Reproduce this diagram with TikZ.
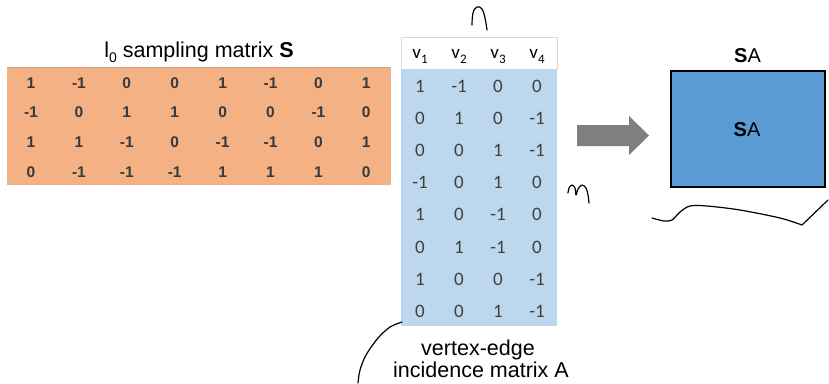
\documentclass[tikz,border=0pt]{standalone}
\usepackage{fontspec}
\setmainfont{Liberation Sans}
\newfontfamily\calib{Carlito}
\definecolor{orfill}{HTML}{F4B183}
\definecolor{orline}{HTML}{C8A68C}
\definecolor{blfill}{HTML}{BDD7EE}
\definecolor{hdline}{HTML}{D9D9D9}
\definecolor{sabox}{HTML}{5B9BD5}
\definecolor{arrgray}{HTML}{7F7F7F}
\definecolor{numgray}{HTML}{3A3A3A}
\definecolor{bnumgray}{HTML}{404040}
\begin{document}
\begin{tikzpicture}[x=1pt,y=-1pt,
  onum/.style={font=\fontsize{15.5}{17}\selectfont\bfseries, text=numgray, inner sep=0pt},
  bnum/.style={font=\calib\fontsize{19}{21}\selectfont, text=bnumgray, inner sep=0pt},
  vhead/.style={font=\calib\fontsize{19}{21}\selectfont, text=black, inner sep=0pt, anchor=base},
  lbl/.style={font=\fontsize{21.5}{24}\selectfont, text=black, inner sep=0pt, anchor=base},
  salbl/.style={font=\fontsize{20}{22}\selectfont, text=black, inner sep=0pt},
  hand/.style={line width=1.2pt, black, line cap=round, line join=round}]
\useasboundingbox (0,0) rectangle (829,383);

% sampling matrix S
\node[fill=orfill, minimum width=384pt, minimum height=118pt, inner sep=0pt, anchor=north west] (S) at (7,67) {};
\draw[orline, line width=0.8pt] (S.north west) -- (S.north east);
\foreach \row [count=\i from 0] in {{1,-1,0,0,1,-1,0,1},{-1,0,1,1,0,0,-1,0},{1,1,-1,0,-1,-1,0,1},{0,-1,-1,-1,1,1,1,0}}
  \foreach \v [count=\j from 0] in \row
    \node[onum] (s-\i-\j) at (31+47.9*\j, 83+29.6*\i) {\v};
\node[lbl] (stitle) at (199,57) {l\raisebox{-5pt}{\fontsize{14}{14}\selectfont 0} sampling matrix \textbf{S}};

% incidence matrix A
\node[fill=white, draw=hdline, line width=0.8pt, minimum width=156pt, minimum height=32pt, inner sep=0pt, anchor=north west] (Ahead) at (401,37) {};
\node[fill=blfill, minimum width=156pt, minimum height=257pt, inner sep=0pt, anchor=north west] (A) at (401,69) {};
\foreach \k in {1,2,3,4}
  \node[vhead] (v\k) at (420+39*\k-39, 58.5) {v\raisebox{-4.5pt}{\fontsize{13}{13}\selectfont\k}};
\foreach \row [count=\i from 0] in {{1,-1,0,0},{0,1,0,-1},{0,0,1,-1},{-1,0,1,0},{1,0,-1,0},{0,1,-1,0},{1,0,0,-1},{0,0,1,-1}}
  \foreach \v [count=\j from 0] in \row
    \node[bnum] (a-\i-\j) at (420+39*\j, 86+32.2*\i) {\v};
\node[lbl] (alab1) at (478,355) {vertex-edge};
\node[lbl] (alab2) at (481,377) {incidence matrix A};

% arrow
\fill[arrgray] (577,125) -- (629,125) -- (629,116) -- (649,135.5) -- (629,155) -- (629,146) -- (577,146) -- cycle;

% SA box
\node[draw=black, line width=2pt, fill=sabox, minimum width=154pt, minimum height=116pt, inner sep=0pt, anchor=north west] (SA) at (670,70) {};
\node[salbl] (SAin) at (747,130) {\textbf{S}A};
\node[salbl] (SAtop) at (747.5,56) {\textbf{S}A};

% hand-drawn strokes
\draw[hand] plot[smooth, tension=0.7] coordinates {(472,25) (473,13) (477,7) (482,9) (485,18) (487,30)};
\draw[hand] plot[smooth, tension=0.5] coordinates {(568,193) (569,188) (572,185) (575,188) (576,195) (578,189) (582,185) (586,188) (588,195) (589,203)};
\draw[hand] plot[smooth] coordinates {(402,322) (390,327) (378,338) (366,355) (360,370) (358,383)};
\draw[hand] plot[smooth, tension=0.5] coordinates {(652,218) (664,221) (672,220) (680,212) (690,206) (707,206) (740,210) (780,218) (802,225)} -- (828,200);
\end{tikzpicture}
\end{document}
